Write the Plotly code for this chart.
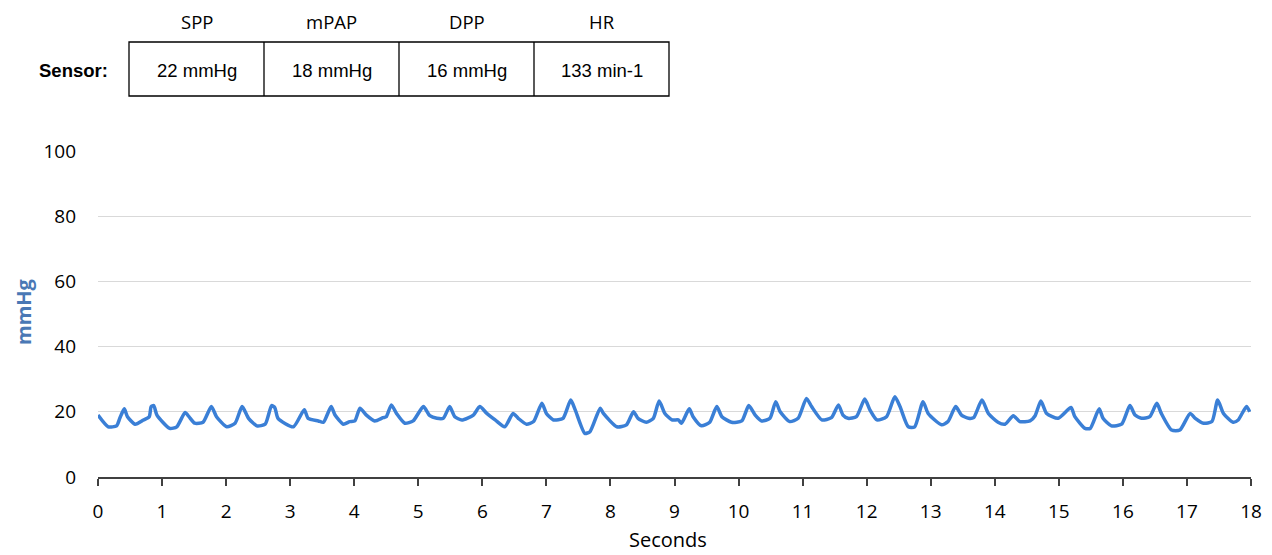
import plotly.graph_objects as go

# ---- data ----
time_s = [0.00, 0.16, 0.29, 0.34, 0.41, 0.46, 0.58, 0.71, 0.80, 0.83, 0.87, 0.92, 1.12, 1.23, 1.36, 1.42,
          1.51, 1.64, 1.77, 1.85, 2.01, 2.14, 2.25, 2.35, 2.48, 2.61, 2.71, 2.76, 2.81, 3.05, 3.22, 3.28,
          3.44, 3.52, 3.64, 3.70, 3.83, 3.93, 4.01, 4.09, 4.19, 4.32, 4.45, 4.50, 4.58, 4.66, 4.79, 4.92,
          5.08, 5.18, 5.29, 5.39, 5.49, 5.57, 5.68, 5.86, 5.96, 6.07, 6.20, 6.35, 6.48, 6.56, 6.69, 6.80,
          6.93, 7.00, 7.11, 7.26, 7.38, 7.45, 7.60, 7.68, 7.84, 7.89, 8.10, 8.25, 8.36, 8.43, 8.56, 8.67,
          8.76, 8.85, 8.96, 9.06, 9.11, 9.23, 9.29, 9.42, 9.55, 9.66, 9.74, 9.89, 10.05, 10.16, 10.26,
          10.36, 10.49, 10.58, 10.65, 10.80, 10.93, 11.06, 11.14, 11.30, 11.45, 11.56, 11.63, 11.71,
          11.84, 11.97, 12.05, 12.16, 12.31, 12.44, 12.52, 12.65, 12.75, 12.88, 12.96, 13.17, 13.27,
          13.39, 13.48, 13.59, 13.67, 13.80, 13.90, 14.05, 14.16, 14.29, 14.39, 14.55, 14.63, 14.72,
          14.81, 14.99, 15.19, 15.25, 15.41, 15.49, 15.63, 15.69, 15.82, 15.98, 16.11, 16.19, 16.29,
          16.42, 16.53, 16.60, 16.76, 16.89, 17.05, 17.13, 17.26, 17.39, 17.48, 17.57, 17.72, 17.80,
          17.93, 17.98]
pressure_mmhg = [19.0, 15.4, 15.7, 18.0, 20.9, 18.5, 16.2, 17.5, 18.5, 21.6, 21.9, 19.0, 14.9, 15.4, 19.8, 18.5,
                 16.5, 16.8, 21.6, 18.5, 15.4, 16.5, 21.6, 18.0, 15.7, 16.2, 21.9, 21.3, 18.0, 15.4, 20.6, 18.0,
                 17.2, 16.8, 21.6, 19.0, 16.2, 17.0, 17.2, 21.1, 19.0, 17.2, 18.2, 18.5, 22.1, 19.5, 16.5, 17.2,
                 21.6, 18.8, 18.0, 18.0, 21.6, 18.5, 17.5, 19.0, 21.6, 19.5, 17.5, 15.4, 19.5, 18.0, 16.2, 17.0,
                 22.6, 19.5, 17.5, 18.0, 23.6, 20.6, 13.4, 13.9, 21.1, 19.5, 15.4, 16.0, 20.0, 18.0, 16.8, 18.0,
                 23.3, 19.5, 17.5, 17.5, 16.5, 20.9, 18.5, 15.7, 16.8, 21.6, 18.5, 16.8, 17.2, 21.9, 19.0,
                 17.2, 18.0, 23.1, 20.0, 17.0, 18.0, 24.1, 21.6, 17.5, 18.2, 22.1, 19.0, 18.0,
                 18.5, 23.9, 20.6, 17.5, 18.5, 24.6, 21.6, 15.4, 15.4, 23.1, 19.5, 16.0, 17.0,
                 21.6, 19.0, 18.0, 18.2, 23.6, 19.5, 16.8, 16.2, 18.8, 17.0, 17.2, 18.8, 23.3,
                 19.5, 18.0, 21.3, 18.5, 14.9, 14.9, 20.9, 18.0, 15.7, 16.2, 21.9, 19.0, 18.0,
                 18.5, 22.6, 19.5, 14.4, 14.4, 19.5, 18.0, 16.5, 17.0, 23.6, 19.5, 16.8, 17.5,
                 21.6, 20.0]

table_headers = ["SPP", "mPAP", "DPP", "HR"]
table_values = ["22 mmHg", "18 mmHg", "16 mmHg", "133 min-1"]
row_label = "Sensor:"
x_ticks = list(range(0, 19))
y_ticks = [0, 20, 40, 60, 80, 100]
x_title = "Seconds"
y_title = "mmHg"

# ---- layout geometry (page pixels; page body has an 8px margin) ----
PAGE_W, PAGE_H = 1272, 555
OFF = 8
W, H = PAGE_W - OFF, PAGE_H - OFF
L, R, T, B = 98, 1251, 151, 477  # plot area in page pixels


def px(x):
    return (x - L) / (R - L)


def py(y):
    return (B - y) / (B - T)


fig = go.Figure()
fig.add_trace(go.Scatter(
    x=time_s, y=pressure_mmhg, mode="lines",
    line=dict(color="#3a7fd6", width=3.5, shape="spline", smoothing=0.6),
    hoverinfo="skip", showlegend=False,
))

shapes = []
col_edges = [129, 264, 399, 534, 669]
top_y, bot_y = 42, 96
shapes.append(dict(type="rect", xref="paper", yref="paper",
                   x0=px(col_edges[0]), x1=px(col_edges[-1]), y0=py(bot_y), y1=py(top_y),
                   line=dict(color="black", width=1.3)))
for e in col_edges[1:-1]:
    shapes.append(dict(type="line", xref="paper", yref="paper",
                       x0=px(e), x1=px(e), y0=py(bot_y), y1=py(top_y),
                       line=dict(color="black", width=1.3)))

annotations = []
for i, (h, v) in enumerate(zip(table_headers, table_values)):
    cx = (col_edges[i] + col_edges[i + 1]) / 2
    annotations.append(dict(text=h, xref="paper", yref="paper", x=px(cx), y=py(8),
                            showarrow=False, xanchor="center", yanchor="top", borderpad=0,
                            font=dict(family="Open Sans", size=18.5, color="black")))
    annotations.append(dict(text=v, xref="paper", yref="paper", x=px(cx), y=py(70),
                            showarrow=False, xanchor="center", yanchor="middle",
                            font=dict(family="Liberation Sans", size=18.5, color="black")))
annotations.append(dict(text="<b>" + row_label + "</b>", xref="paper", yref="paper",
                        x=px(110), y=py(70), showarrow=False, xanchor="right", yanchor="middle",
                        font=dict(family="Liberation Sans", size=18.5, color="black")))
annotations.append(dict(text=x_title, xref="paper", yref="paper", x=px(668), y=py(554),
                        showarrow=False, xanchor="center", yanchor="bottom", borderpad=0,
                        font=dict(family="Open Sans", size=20, color="black")))
annotations.append(dict(text="<b>" + y_title + "</b>", xref="paper", yref="paper", x=px(8.5), y=py(312),
                        showarrow=False, xanchor="left", yanchor="middle", textangle=-90, borderpad=0,
                        font=dict(family="Open Sans", size=20, color="#4a78b5")))

fig.update_layout(
    width=W, height=H,
    margin=dict(l=L - OFF, r=PAGE_W - R, t=T - OFF, b=H - (B - OFF), pad=0, autoexpand=False),
    paper_bgcolor="white", plot_bgcolor="white",
    shapes=shapes, annotations=annotations,
    xaxis=dict(range=[0, 18], tickvals=x_ticks, ticktext=[str(v) for v in x_ticks],
               showgrid=False, zeroline=False, showline=True, linecolor="#404040", linewidth=1.5,
               ticks="outside", ticklen=7, tickcolor="#404040", tickwidth=1.5, automargin=False,
               ticklabelstandoff=9,
               tickfont=dict(family="Open Sans", size=19, color="black")),
    yaxis=dict(range=[0, 100], tickvals=y_ticks, ticktext=[str(v) for v in y_ticks],
               showgrid=True, gridcolor="#d9d9d9", gridwidth=1.2, zeroline=False,
               showline=False, ticks="", ticklabelstandoff=21, automargin=False,
               tickfont=dict(family="Open Sans", size=19, color="black")),
)

fig.write_html("out.html")
